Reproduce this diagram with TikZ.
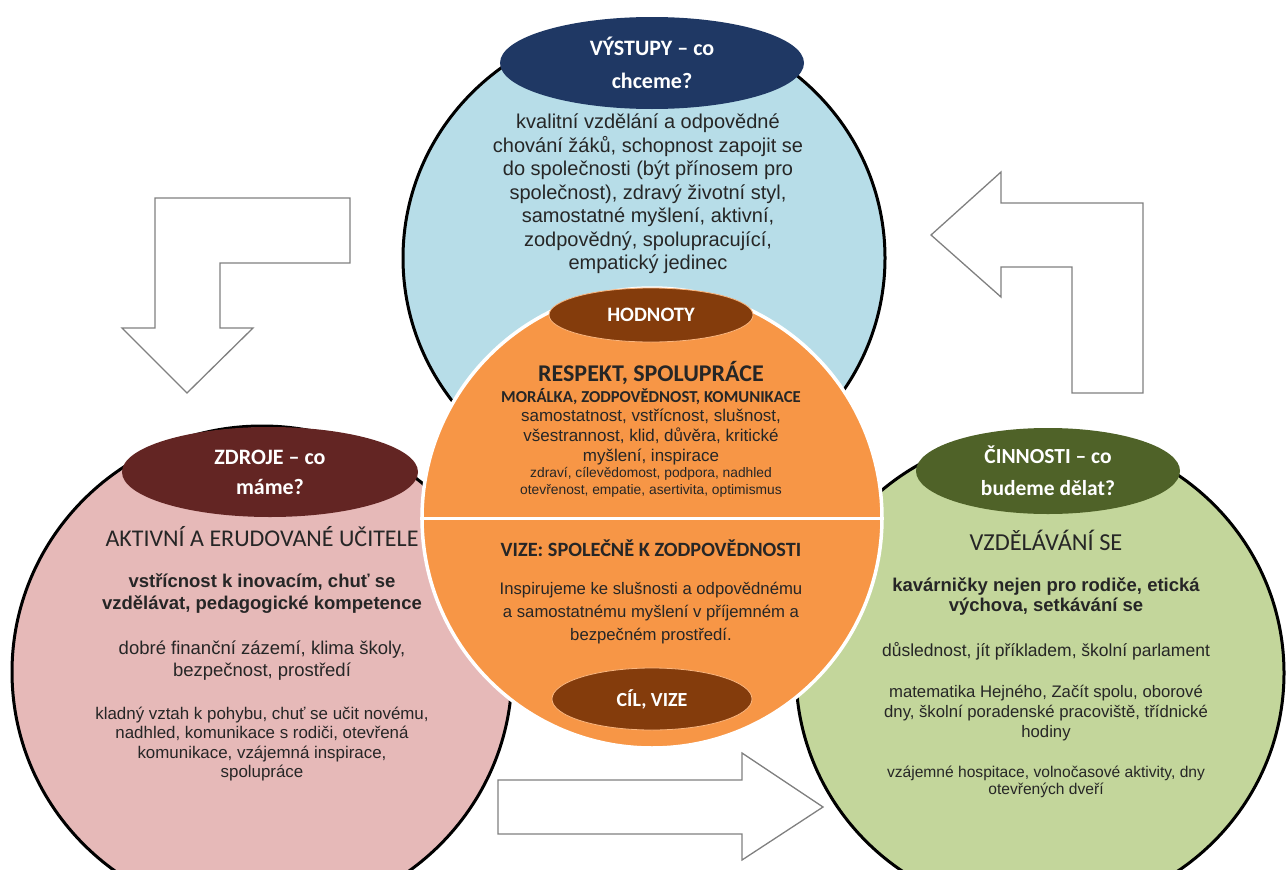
\documentclass[tikz,border=0pt]{standalone}
\usepackage{fontspec}
\setmainfont{Liberation Sans}
\newfontfamily\calibri{Carlito}
\usetikzlibrary{shapes}
\usetikzlibrary{positioning}

\definecolor{vystupyfill}{RGB}{183,221,232}
\definecolor{hodnotyfill}{RGB}{247,150,70}
\definecolor{zdrojefill}{RGB}{230,185,184}
\definecolor{cinnostifill}{RGB}{195,214,155}
\definecolor{vystupycap}{RGB}{31,56,100}
\definecolor{hodnotycap}{RGB}{132,60,12}
\definecolor{zdrojecap}{RGB}{99,37,35}
\definecolor{cinnosticap}{RGB}{79,98,40}
\definecolor{textgray}{RGB}{38,38,38}

\begin{document}
\begin{tikzpicture}[x=1pt,y=-1pt]
\tikzstyle{ring} = [ellipse, draw=black, line width=3pt, inner sep=0pt]
\tikzstyle{capsule} = [ellipse, inner sep=0pt, text=white, align=center]
\tikzstyle{body} = [align=center, text=textgray, inner sep=0pt]
\tikzstyle{blockarrow} = [draw=black!50, line width=1.3pt, fill=white, line join=miter]

\useasboundingbox (0,0) rectangle (1288,870);
\clip (0,0) rectangle (1288,870);

% block arrows
\draw[blockarrow] (155,198) -- (350,198) -- (350,263) -- (220,263) -- (220,328)
  -- (253,328) -- (187,393) -- (122,328) -- (155,328) -- cycle;
\draw[blockarrow] (931,235) -- (1001,172) -- (1001,203) -- (1143,203) -- (1143,393)
  -- (1072,393) -- (1072,267) -- (1001,267) -- (1001,297) -- cycle;
\draw[blockarrow] (498,780) -- (742,780) -- (742,753) -- (823,807) -- (742,860)
  -- (742,834) -- (498,834) -- cycle;

% outer circles
\node[ring, fill=vystupyfill, minimum width=482pt, minimum height=472pt] (vystupy) at (644,258) {};
\node[ring, fill=zdrojefill, minimum width=500pt, minimum height=492pt] (zdroje) at (262,672) {};
\node[ring, fill=cinnostifill, minimum width=488pt, minimum height=480pt] (cinnosti) at (1040,673) {};

\node[capsule, fill=vystupycap, minimum width=304pt, minimum height=92pt,
  font=\calibri\bfseries\fontsize{22}{33}\selectfont] (vystupylabel) at (652,63) {VÝSTUPY – co\\chceme?};
\node[capsule, fill=zdrojecap, minimum width=296pt, minimum height=90pt,
  font=\calibri\bfseries\fontsize{22}{30}\selectfont] (zdrojelabel) at (270,472) {ZDROJE – co\\máme?};
\node[capsule, fill=cinnosticap, minimum width=264pt, minimum height=86pt,
  font=\calibri\bfseries\fontsize{21.5}{32}\selectfont] (cinnostilabel) at (1048,471) {ČINNOSTI – co\\budeme dělat?};

% centre circle
\node[circle, fill=hodnotyfill, draw=white, line width=3.5pt, minimum size=460pt, inner sep=0pt] (hodnoty) at (652,518) {};
\draw[white, line width=3pt] (hodnoty.west) -- (hodnoty.east);
\node[capsule, fill=hodnotycap, draw=hodnotyfill!70!white, line width=0.8pt, minimum width=204pt, minimum height=54pt,
  font=\calibri\bfseries\fontsize{20.5}{22}\selectfont] (hodnotylabel) at (651,315) {HODNOTY};
\node[capsule, fill=hodnotycap, draw=hodnotyfill!70!white, line width=0.8pt, minimum width=200pt, minimum height=62pt,
  font=\calibri\bfseries\fontsize{20}{22}\selectfont] (cillabel) at (652,699) {CÍL, VIZE};

% texts: vystupy
\node[body, font=\fontsize{20}{23.5}\selectfont] (vystupytext) at (648,194)
  {kvalitní vzdělání a odpovědné\\chování žáků, schopnost zapojit se\\do společnosti (být přínosem pro\\společnost), zdravý životní styl,\\samostatné myšlení, aktivní,\\zodpovědný, spolupracující,\\empatický jedinec};

% texts: hodnoty
\node[body, font=\calibri\bfseries\fontsize{24}{26}\selectfont] (respekt) at (651,373) {RESPEKT, SPOLUPRÁCE};
\node[body, font=\calibri\bfseries\fontsize{16.7}{18}\selectfont] (moralka) at (651,397) {MORÁLKA, ZODPOVĚDNOST, KOMUNIKACE};
\node[body, font=\fontsize{17}{20}\selectfont] (samostatnost) at (651,437)
  {samostatnost, vstřícnost, slušnost,\\všestrannost, klid, důvěra, kritické\\myšlení, inspirace};
\node[body, font=\fontsize{13.8}{17}\selectfont] (zdravi) at (651,482)
  {zdraví, cílevědomost, podpora, nadhled\\otevřenost, empatie, asertivita, optimismus};
\node[body, font=\calibri\bfseries\fontsize{20.3}{22}\selectfont] (vize) at (651,548) {VIZE: SPOLEČNĚ K ZODPOVĚDNOSTI};
\node[body, font=\fontsize{16.7}{23}\selectfont] (inspirujeme) at (651,613)
  {Inspirujeme ke slušnosti a odpovědnému\\a samostatnému myšlení v příjemném a\\bezpečném prostředí.};

% texts: zdroje
\node[body, font=\calibri\fontsize{24}{26}\selectfont] (ucitele) at (262,537) {AKTIVNÍ A ERUDOVANÉ UČITELE};
\node[body, font=\bfseries\fontsize{18.5}{22}\selectfont] (inovace) at (262,594)
  {vstřícnost k inovacím, chuť se\\vzdělávat, pedagogické kompetence};
\node[body, font=\fontsize{18.5}{22}\selectfont] (zazemi) at (262,661)
  {dobré finanční zázemí, klima školy,\\bezpečnost, prostředí};
\node[body, font=\fontsize{16.9}{19.5}\selectfont] (pohyb) at (262,744)
  {kladný vztah k pohybu, chuť se učit novému,\\nadhled, komunikace s rodiči, otevřená\\komunikace, vzájemná inspirace,\\spolupráce};

% texts: cinnosti
\node[body, font=\calibri\fontsize{24.4}{26}\selectfont] (vzdelavani) at (1046,540) {VZDĚLÁVÁNÍ SE};
\node[body, font=\bfseries\fontsize{18.5}{20}\selectfont] (kavarnicky) at (1046,597)
  {kavárničky nejen pro rodiče, etická\\výchova, setkávání se};
\node[body, font=\fontsize{17.5}{19}\selectfont] (dusled) at (1046,651)
  {důslednost, jít příkladem, školní parlament};
\node[body, font=\fontsize{16.7}{20}\selectfont] (hejny) at (1046,713)
  {matematika Hejného, Začít spolu, oborové\\dny, školní poradenské pracoviště, třídnické\\hodiny};
\node[body, font=\fontsize{15.6}{17}\selectfont] (hospitace) at (1046,782)
  {vzájemné hospitace, volnočasové aktivity, dny\\otevřených dveří};
\end{tikzpicture}
\end{document}
